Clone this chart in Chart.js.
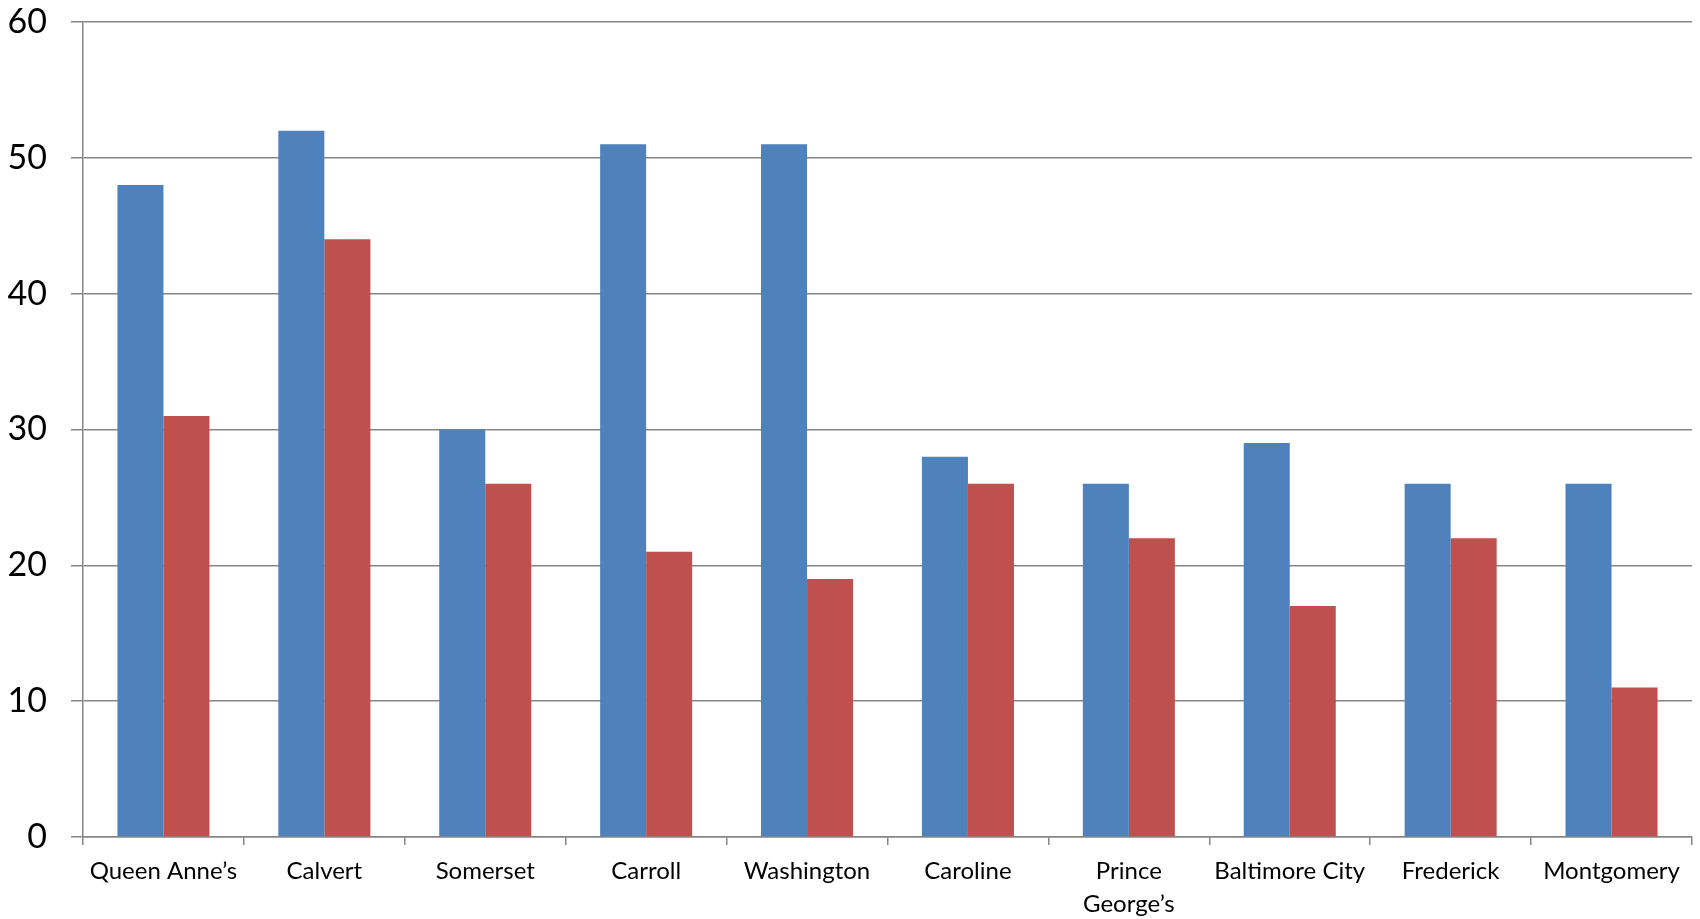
<!DOCTYPE html>
<html><head><meta charset="utf-8">
<script src="https://cdn.jsdelivr.net/npm/chart.js@4"></script>
<style>html,body{margin:0;padding:0;background:#fff}canvas{display:block}</style>
</head><body>
<canvas id="c" width="1700" height="919"></canvas>
<script>
const categories = ["Queen Anne’s", "Calvert", "Somerset", "Carroll", "Washington", "Caroline", ["Prince", "George’s"], "Baltimore City", "Frederick", "Montgomery"];
const seriesBlue = [48, 52, 30, 51, 51, 28, 26, 29, 26, 26];
const seriesRed = [31, 44, 26, 21, 19, 26, 22, 17, 22, 11];
const yTicks = [0, 10, 20, 30, 40, 50, 60];

new Chart(document.getElementById('c'), {
  type: 'bar',
  data: {
    labels: categories,
    datasets: [
      { data: seriesBlue, backgroundColor: '#4F81BD', borderWidth: 0 },
      { data: seriesRed, backgroundColor: '#C0504D', borderWidth: 0 }
    ]
  },
  options: {
    responsive: false,
    animation: false,
    layout: { padding: { top: 22, right: 8, left: 0, bottom: 0 } },
    plugins: { legend: { display: false }, tooltip: { enabled: false } },
    datasets: { bar: { categoryPercentage: 0.572, barPercentage: 1 } },
    scales: {
      x: {
        afterFit: (s) => { s.paddingLeft = 0; s.paddingRight = 0; s.height = 82; },
        grid: { display: true, drawOnChartArea: false, drawTicks: true, tickLength: 8, color: '#868686', lineWidth: 1.5, offset: true },
        border: { display: true, color: '#868686', width: 1.5 },
        ticks: { color: '#000', font: { family: 'Lato', size: 24, lineHeight: 1.36 }, padding: 10, maxRotation: 0, autoSkip: false }
      },
      y: {
        min: 0, max: 60,
        afterBuildTicks: (s) => { s.ticks = yTicks.map(v => ({ value: v })); },
        afterFit: (s) => { s.width = 83; s.paddingTop = 0; s.paddingBottom = 0; },
        grid: { color: '#868686', lineWidth: 1.5, tickLength: 12 },
        border: { display: true, color: '#868686', width: 1.5 },
        ticks: { color: '#000', font: { family: 'Lato', size: 34 }, padding: 24 }
      }
    }
  }
});
</script>
</body></html>
